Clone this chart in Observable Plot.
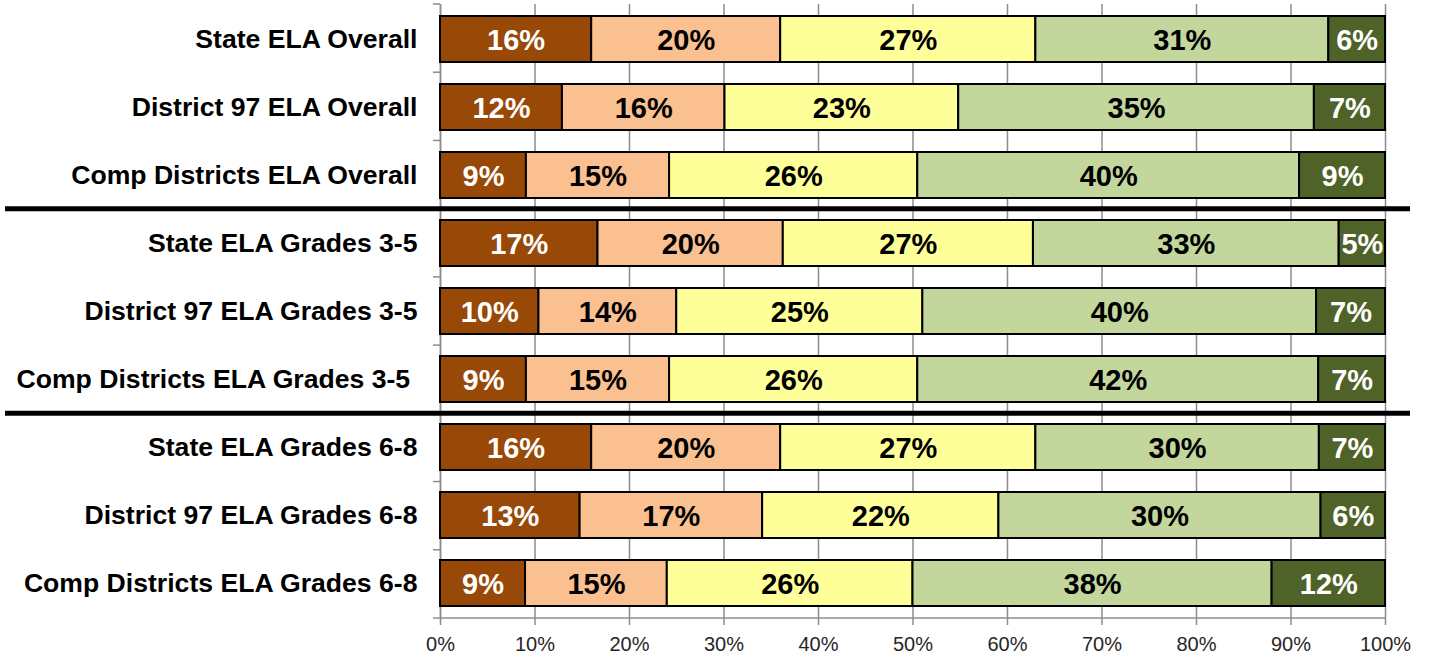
<!DOCTYPE html>
<html>
<head>
<meta charset="utf-8">
<script src="https://cdn.jsdelivr.net/npm/d3@7"></script>
<script src="https://cdn.jsdelivr.net/npm/@observablehq/plot@0.6"></script>
<style>
  html, body { margin: 0; padding: 0; background: #fff; }
  #chart svg { display: block; font-family: "Liberation Sans", Arial, sans-serif; }
  #chart svg text { white-space: pre; }
</style>
</head>
<body>
<div id="chart"></div>
<script>
// Row categories (top to bottom)
const categories = [
  "State ELA Overall",
  "District 97 ELA Overall",
  "Comp Districts ELA Overall",
  "State ELA Grades 3-5",
  "District 97 ELA Grades 3-5",
  "Comp Districts ELA Grades 3-5 ",
  "State ELA Grades 6-8",
  "District 97 ELA Grades 6-8",
  "Comp Districts ELA Grades 6-8"
];
// Performance levels (stack order left to right)
const levels = ["Level 1", "Level 2", "Level 3", "Level 4", "Level 5"];
// Percent of students per level, per row
const level1 = [16, 12, 9, 17, 10, 9, 16, 13, 9];
const level2 = [20, 16, 15, 20, 14, 15, 20, 17, 15];
const level3 = [27, 23, 26, 27, 25, 26, 27, 22, 26];
const level4 = [31, 35, 40, 33, 40, 42, 30, 30, 38];
const level5 = [6, 7, 9, 5, 7, 7, 7, 6, 12];
// x-axis ticks
const xTicks = [0, 0.1, 0.2, 0.3, 0.4, 0.5, 0.6, 0.7, 0.8, 0.9, 1];
// Colours
const levelColors = ["#984807", "#FAC090", "#FFFF99", "#C3D69B", "#4F6228"];
const labelColors = ["#FFFFFF", "#000000", "#000000", "#000000", "#FFFFFF"];
// Rows after which a thick separator line is drawn
const separatorsAfter = [3, 6];

const series = [level1, level2, level3, level4, level5];
const data = levels.flatMap((lv, i) =>
  categories.map((c, j) => ({
    category: c,
    level: lv,
    value: series[i][j],
    fill: levelColors[i],
    textFill: labelColors[i]
  }))
);

const W = 1432, H = 656;
const mTop = 4, mBottom = 38, mLeft = 440, mRight = 47;
const gray = "#8c8c8c";

// decorations: bottom axis line, left tick marks at band boundaries, thick separators
function decorations(index, scales, values, dimensions) {
  const {width, height, marginTop, marginBottom, marginLeft, marginRight} = dimensions;
  const n = categories.length;
  const step = (height - marginTop - marginBottom) / n;
  const g = d3.create("svg:g");
  // bottom axis line
  g.append("line")
    .attr("x1", marginLeft).attr("x2", width - marginRight)
    .attr("y1", height - marginBottom).attr("y2", height - marginBottom)
    .attr("stroke", gray).attr("stroke-width", 1.5);
  // left tick marks
  for (let k = 0; k <= n; k++) {
    const yy = marginTop + k * step;
    g.append("line")
      .attr("x1", marginLeft - 7).attr("x2", marginLeft)
      .attr("y1", yy).attr("y2", yy)
      .attr("stroke", gray).attr("stroke-width", 1.5);
  }
  // thick separators
  for (const k of separatorsAfter) {
    const yy = marginTop + k * step;
    g.append("line")
      .attr("x1", 5).attr("x2", width - 22)
      .attr("y1", yy).attr("y2", yy)
      .attr("stroke", "#000").attr("stroke-width", 5);
  }
  return g.node();
}

const chart = Plot.plot({
  width: W,
  height: H,
  marginTop: mTop,
  marginBottom: mBottom,
  marginLeft: mLeft,
  marginRight: mRight,
  style: {fontFamily: "'Liberation Sans', Arial, sans-serif", background: "#fff"},
  x: {domain: [0, 1], ticks: xTicks, tickFormat: d3.format(".0%")},
  y: {domain: categories, paddingInner: 0.33, paddingOuter: 0.165},
  color: {type: "identity"},
  marks: [
    Plot.gridX(xTicks, {stroke: gray, strokeOpacity: 1, strokeWidth: 1.5}),
    Plot.ruleX([0], {stroke: gray, strokeWidth: 1.5}),
    Plot.axisX(xTicks, {
      tickSize: 7, tickPadding: 11, stroke: gray, strokeWidth: 1.5,
      fontSize: 20, fill: "#262626", tickFormat: d3.format(".0%"), label: null
    }),
    Plot.axisY({
      tickSize: 0, tickPadding: 23, fontSize: 26.6, fontWeight: "bold",
      fill: "#000", label: null
    }),
    decorations,
    Plot.barX(data, Plot.stackX({
      x: "value", y: "category", z: "level", offset: "normalize",
      fill: "fill", stroke: "#000", strokeWidth: 2
    })),
    Plot.text(data, Plot.stackX({
      x: "value", y: "category", z: "level", offset: "normalize",
      text: d => d.value + "%", fill: "textFill",
      fontSize: 29, fontWeight: "bold", dy: 1
    }))
  ]
});

document.getElementById("chart").appendChild(chart);
</script>
</body>
</html>
